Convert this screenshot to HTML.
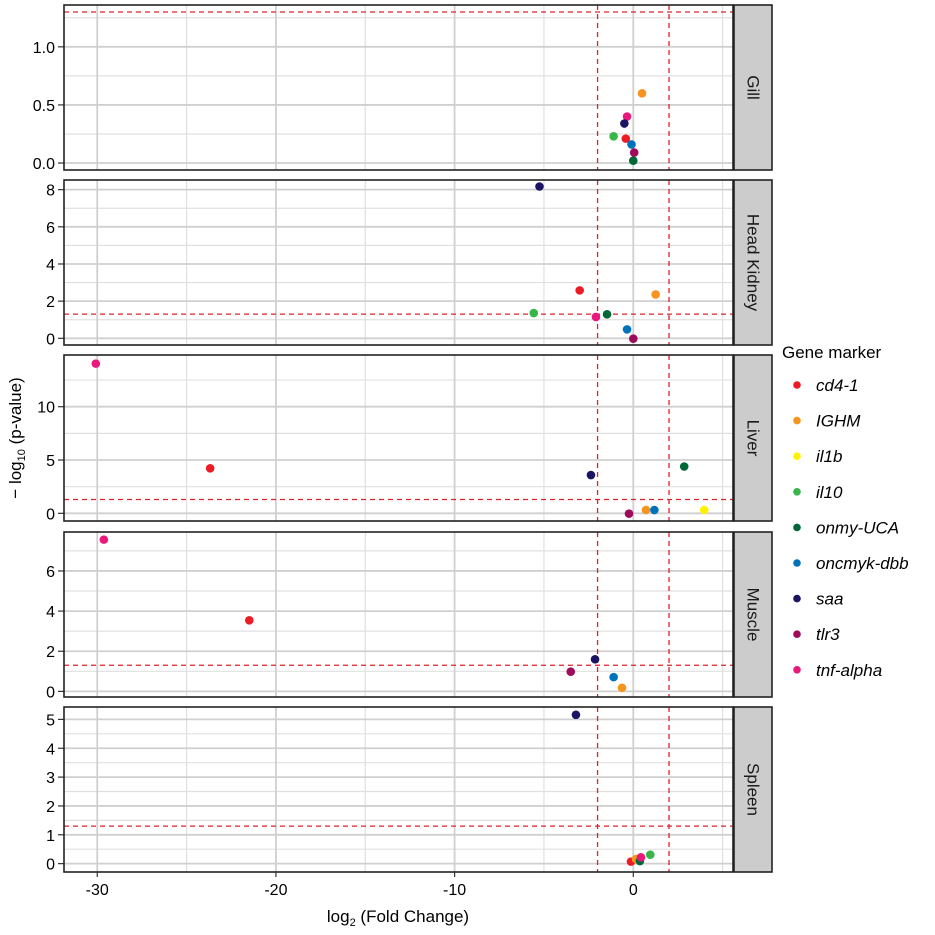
<!DOCTYPE html>
<html><head><meta charset="utf-8"><style>
html,body{margin:0;padding:0;background:#fff;}
svg{display:block;font-family:"Liberation Sans",Arial,sans-serif;}
</style></head><body>
<svg id="chart" width="935" height="935" viewBox="0 0 935 935" xmlns="http://www.w3.org/2000/svg"></svg>
<script>
const genes = ["cd4-1","IGHM","il1b","il10","onmy-UCA","oncmyk-dbb","saa","tlr3","tnf-alpha"];
const geneColors = ["#ed1c24","#f7941d","#fff200","#39b54a","#006837","#0072bc","#1b1464","#9e0b5a","#e8197a"];
const tissues = ["Gill","Head Kidney","Liver","Muscle","Spleen"];
const xTicks = [-30,-20,-10,0];
const xMinor = [-25,-15,-5,5];
const fcCutoffs = [-2,2];
const pCutoff = 1.3;
const yTicksGill = [0,0.5,1.0]; const yLabelsGill = ["0.0","0.5","1.0"]; const yMinorGill=[0.25,0.75,1.25];
const yTicksHK = [0,2,4,6,8]; const yMinorHK=[1,3,5,7];
const yTicksLiver = [0,5,10]; const yMinorLiver=[2.5,7.5,12.5];
const yTicksMuscle = [0,2,4,6]; const yMinorMuscle=[1,3,5,7];
const yTicksSpleen = [0,1,2,3,4,5]; const yMinorSpleen=[0.5,1.5,2.5,3.5,4.5];
const gillGene = [1,8,6,3,0,5,7,4];
const gillFC =   [0.49,-0.35,-0.5,-1.1,-0.42,-0.1,0.05,0.0];
const gillP =    [0.60,0.40,0.34,0.23,0.21,0.16,0.09,0.02];
const hkGene = [6,0,1,3,4,8,5,7];
const hkFC =   [-5.25,-3.0,1.25,-5.57,-1.47,-2.09,-0.35,0.0];
const hkP =    [8.17,2.58,2.36,1.36,1.29,1.15,0.48,-0.02];
const liverGene = [8,0,6,4,7,1,5,2];
const liverFC =   [-30.08,-23.68,-2.37,2.85,-0.24,0.71,1.18,3.97];
const liverP =    [14.04,4.22,3.59,4.39,-0.03,0.31,0.31,0.31];
const muscleGene = [8,0,6,7,5,1];
const muscleFC =   [-29.63,-21.49,-2.14,-3.5,-1.1,-0.63];
const muscleP =    [7.56,3.54,1.6,0.98,0.71,0.18];
const spleenGene = [6,0,1,4,8,3];
const spleenFC =   [-3.21,-0.13,0.15,0.37,0.43,0.95];
const spleenP =    [5.16,0.07,0.16,0.09,0.22,0.31];

const NS="http://www.w3.org/2000/svg";
const svg=document.getElementById('chart');
function mk(tag,attrs,parent){const e=document.createElementNS(NS,tag);for(const k in attrs)e.setAttribute(k,attrs[k]);(parent||svg).appendChild(e);return e;}
const PL=64, PR=733, SX0=734, SX1=772;
const xMin=-31.86, xMax=5.58;
function xs(v){return PL+(v-xMin)/(xMax-xMin)*(PR-PL);}
const panels=[
 {top:5,bot:170,ymin:-0.06,ymax:1.36,ticks:yTicksGill,labels:yLabelsGill,minor:yMinorGill,g:gillGene,x:gillFC,y:gillP},
 {top:180,bot:345,ymin:-0.36,ymax:8.52,ticks:yTicksHK,minor:yMinorHK,g:hkGene,x:hkFC,y:hkP},
 {top:355,bot:521,ymin:-0.72,ymax:14.85,ticks:yTicksLiver,minor:yMinorLiver,g:liverGene,x:liverFC,y:liverP},
 {top:532,bot:697,ymin:-0.28,ymax:7.94,ticks:yTicksMuscle,minor:yMinorMuscle,g:muscleGene,x:muscleFC,y:muscleP},
 {top:707,bot:872,ymin:-0.29,ymax:5.43,ticks:yTicksSpleen,minor:yMinorSpleen,g:spleenGene,x:spleenFC,y:spleenP}
];
panels.forEach((p,i)=>{
  const ys=v=>p.bot-(v-p.ymin)/(p.ymax-p.ymin)*(p.bot-p.top);
  const g=mk('g',{});
  
  
  mk('rect',{x:PL,y:p.top,width:PR-PL,height:p.bot-p.top,fill:'#fff'},g);
  p.minor.forEach(v=>{const yy=ys(v);if(yy>p.top&&yy<p.bot)mk('line',{x1:PL,x2:PR,y1:yy,y2:yy,stroke:'#e0e0e0','stroke-width':1.2},g);});
  xMinor.forEach(v=>mk('line',{x1:xs(v),x2:xs(v),y1:p.top,y2:p.bot,stroke:'#e0e0e0','stroke-width':1.2},g));
  p.ticks.forEach((v,k)=>{const yy=ys(v);
    mk('line',{x1:PL,x2:PR,y1:yy,y2:yy,stroke:'#d0d0d0','stroke-width':1.8},g);
    mk('line',{x1:58,x2:PL,y1:yy,y2:yy,stroke:'#333','stroke-width':1.2},g);
    const t=mk('text',{x:55,y:yy+6,'text-anchor':'end','font-size':16,fill:'#000'},g);
    t.textContent=p.labels?p.labels[k]:String(v);
    
    
  });
  xTicks.forEach(v=>mk('line',{x1:xs(v),x2:xs(v),y1:p.top,y2:p.bot,stroke:'#d0d0d0','stroke-width':1.8},g));
  const hy=ys(pCutoff);
  if(hy>p.top&&hy<p.bot){const l=mk('line',{x1:PL,x2:PR,y1:hy,y2:hy,stroke:'#e0202a','stroke-width':1.3,'stroke-dasharray':'5,4'},g);
    }
  fcCutoffs.forEach(v=>{const l=mk('line',{x1:xs(v),x2:xs(v),y1:p.top,y2:p.bot,stroke:'#e0202a','stroke-width':1.3,'stroke-dasharray':'5,4'},g);
    });
  p.g.forEach((gi,k)=>{const c=mk('circle',{cx:xs(p.x[k]),cy:ys(p.y[k]),r:4.3,fill:geneColors[gi]},g);
    
    });
  mk('rect',{x:PL,y:p.top,width:PR-PL,height:p.bot-p.top,fill:'none',stroke:'#222','stroke-width':1.6},g);
  const s=mk('rect',{x:SX0,y:p.top,width:SX1-SX0,height:p.bot-p.top,fill:'#cccccc',stroke:'#222','stroke-width':1.6},g);
  
  
  const cy=(p.top+p.bot)/2, cx=(SX0+SX1)/2;
  const st=mk('text',{x:cx,y:cy,'text-anchor':'middle','dominant-baseline':'central','font-size':17,fill:'#1a1a1a',transform:`rotate(90 ${cx} ${cy})`},g);
  st.textContent=tissues[i];
  
  
});
xTicks.forEach(v=>{
  mk('line',{x1:xs(v),x2:xs(v),y1:872,y2:877,stroke:'#333','stroke-width':1.2});
  const t=mk('text',{x:xs(v),y:895,'text-anchor':'middle','font-size':16,fill:'#000'});
  t.textContent=String(v);
  
  
});
const xt=mk('text',{x:398,y:922,'text-anchor':'middle','font-size':17,fill:'#000'});
xt.innerHTML='log<tspan font-size="11" dy="4">2</tspan><tspan dy="-4"> (Fold Change)</tspan>';


const yt=mk('text',{x:0,y:0,'text-anchor':'middle','font-size':17,fill:'#000',transform:'translate(21 438) rotate(-90)'});
yt.innerHTML='\u2212 log<tspan font-size="11" dy="4">10</tspan><tspan dy="-4"> (p-value)</tspan>';


const lg=mk('g',{});


const lt=mk('text',{x:782,y:358,'font-size':17,fill:'#000'},lg);
lt.textContent='Gene marker';


genes.forEach((gname,i)=>{
  const y=385+i*35.6;
  const c=mk('circle',{cx:797,cy:y,r:3.8,fill:geneColors[i]},lg);
  
  
  const t=mk('text',{x:816,y:y+6,'font-size':17,'font-style':'italic',fill:'#000'},lg);
  t.textContent=gname;
  
  
});
</script>
</body></html>
